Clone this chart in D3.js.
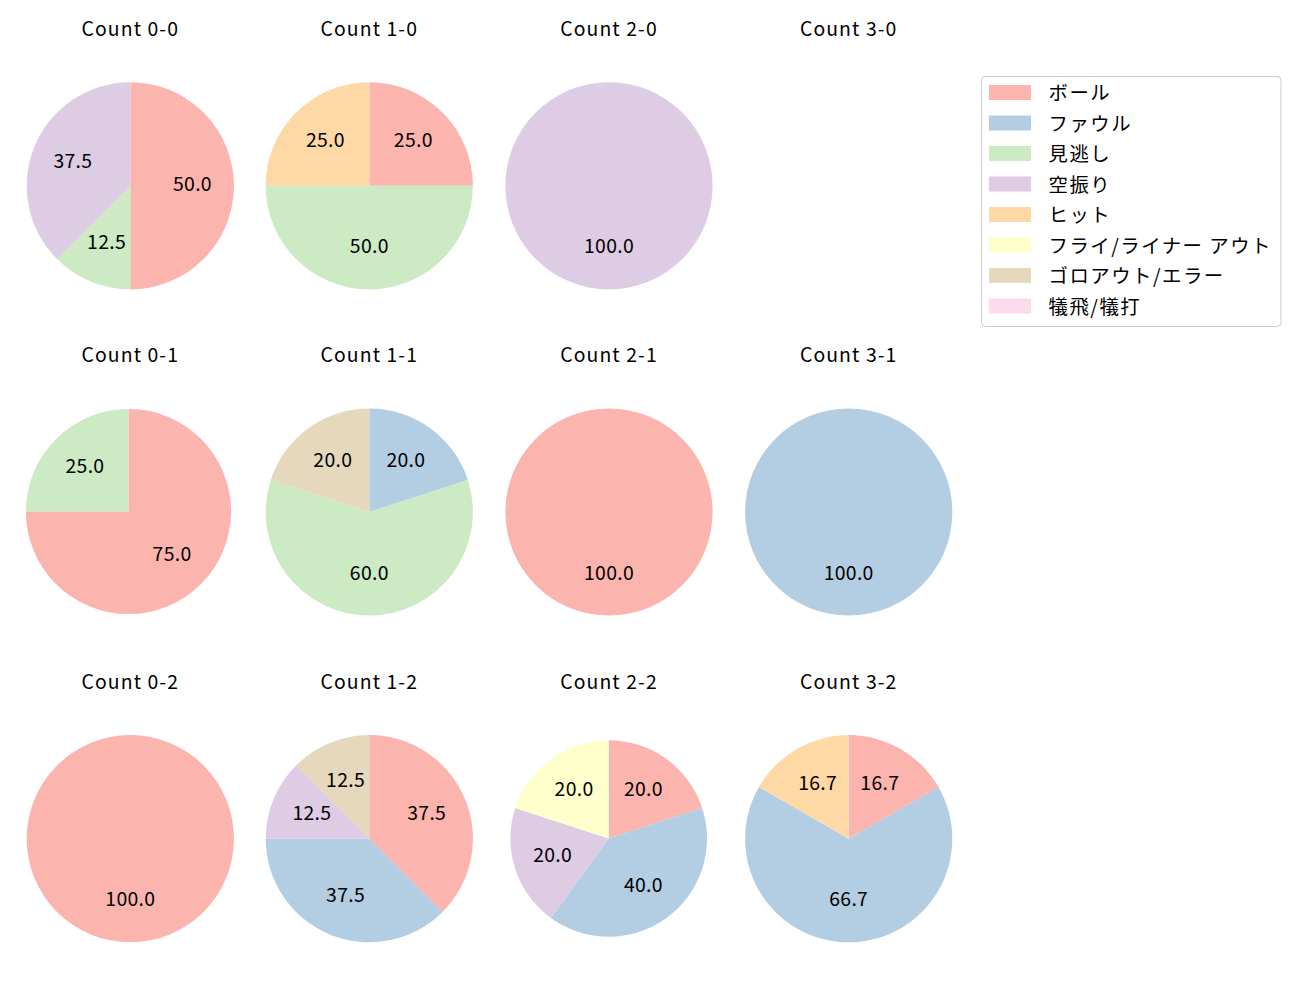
<!DOCTYPE html>
<html>
<head>
<meta charset="utf-8">
<script src="https://cdn.jsdelivr.net/npm/d3@7"></script>
<style>
  html, body { margin: 0; padding: 0; background: #fff; }
  svg text { font-family: "Noto Sans CJK JP", "Noto Sans", sans-serif; fill: #000; }
</style>
</head>
<body>
<svg id="chart" width="1300" height="1000"></svg>
<script>
// ---- data ----
const counts = ["0-0", "1-0", "2-0", "3-0", "0-1", "1-1", "2-1", "3-1", "0-2", "1-2", "2-2", "3-2"];
const categories = ["ボール", "ファウル", "見逃し", "空振り", "ヒット", "フライ/ライナー アウト", "ゴロアウト/エラー", "犠飛/犠打"];
const colors = ["#fbb4ae", "#b3cde3", "#ccebc5", "#decbe4", "#fed9a6", "#ffffcc", "#e5d8bd", "#fddaec"];
// percentages per count (same order as counts)
const ball     = [50.0, 25.0, 0, 0, 75.0, 0, 100.0, 0, 100.0, 37.5, 20.0, 16.7];
const foul     = [0, 0, 0, 0, 0, 20.0, 0, 100.0, 0, 37.5, 40.0, 66.7];
const looking  = [12.5, 50.0, 0, 0, 25.0, 60.0, 0, 0, 0, 0, 0, 0];
const swinging = [37.5, 0, 100.0, 0, 0, 0, 0, 0, 0, 12.5, 20.0, 0];
const hit      = [0, 25.0, 0, 0, 0, 0, 0, 0, 0, 0, 0, 16.7];
const flyOut   = [0, 0, 0, 0, 0, 0, 0, 0, 0, 0, 20.0, 0];
const groundOut= [0, 0, 0, 0, 0, 20.0, 0, 0, 0, 12.5, 0, 0];
const sacrifice= [0, 0, 0, 0, 0, 0, 0, 0, 0, 0, 0, 0];
const series = [ball, foul, looking, swinging, hit, flyOut, groundOut, sacrifice];

// ---- layout ----
const colX = [130.3, 369.3, 609, 848.7];
const rowY = [185.8, 512, 838.7];
const baseR = 103.6;
// small per-panel adjustments seen in the reference (index -> [dx, dy, r])
const panelAdjust = { 4: [-1.8, -0.5, 102.6], 10: [-0.3, -0.2, 98.3] };

const svg = d3.select("#chart");
const color = d3.scaleOrdinal().domain(categories).range(colors);
const pie = d3.pie().sort(null).value(d => d.value)
  .startAngle(0).endAngle(2 * Math.PI);
const fontSize = 19.4;

counts.forEach((c, i) => {
  const col = i % 4, row = Math.floor(i / 4);
  const adj = panelAdjust[i] || [0, 0, baseR];
  const cx = colX[col] + adj[0], cy = rowY[row] + adj[1], r = adj[2];

  svg.append("text")
    .attr("x", colX[col])
    .attr("y", rowY[row] - 150)
    .attr("text-anchor", "middle")
    .style("font-size", fontSize + "px")
    .style("letter-spacing", "1.1px")
    .text("Count " + c);

  const items = categories.map((k, j) => ({ key: k, value: series[j][i] }))
    .filter(d => d.value > 0);
  if (items.length === 0) return;

  const g = svg.append("g").attr("transform", `translate(${cx},${cy})`);
  const arcs = pie(items);
  const arc = d3.arc().innerRadius(0).outerRadius(r);
  const labelArc = d3.arc().innerRadius(r * 0.6).outerRadius(r * 0.6);

  g.selectAll("path").data(arcs).join("path")
    .attr("d", arc)
    .attr("fill", d => color(d.data.key));

  g.selectAll("text").data(arcs).join("text")
    .attr("transform", d => `translate(${labelArc.centroid(d)})`)
    .attr("text-anchor", "middle")
    .attr("dy", "5.5px")
    .style("font-size", fontSize + "px")
    .style("letter-spacing", "0.3px")
    .text(d => d.data.value.toFixed(1));
});

// ---- legend ----
const lg = svg.append("g").attr("transform", "translate(981.5,76.5)");
lg.append("rect")
  .attr("width", 299.5).attr("height", 250)
  .attr("rx", 4).attr("ry", 4)
  .attr("fill", "#fff").attr("fill-opacity", 0.8)
  .attr("stroke", "#cccccc").attr("stroke-width", 1);

const rows = lg.selectAll("g.item").data(categories).join("g")
  .attr("class", "item")
  .attr("transform", (d, i) => `translate(0,${16 + i * 30.5})`);
rows.append("rect")
  .attr("x", 7.5).attr("y", -7.5).attr("width", 42).attr("height", 15)
  .attr("fill", d => color(d));
rows.append("text")
  .attr("x", 67).attr("y", -1)
  .attr("dominant-baseline", "central")
  .style("font-size", fontSize + "px")
  .style("letter-spacing", "1.5px")
  .text(d => d);
</script>
</body>
</html>
